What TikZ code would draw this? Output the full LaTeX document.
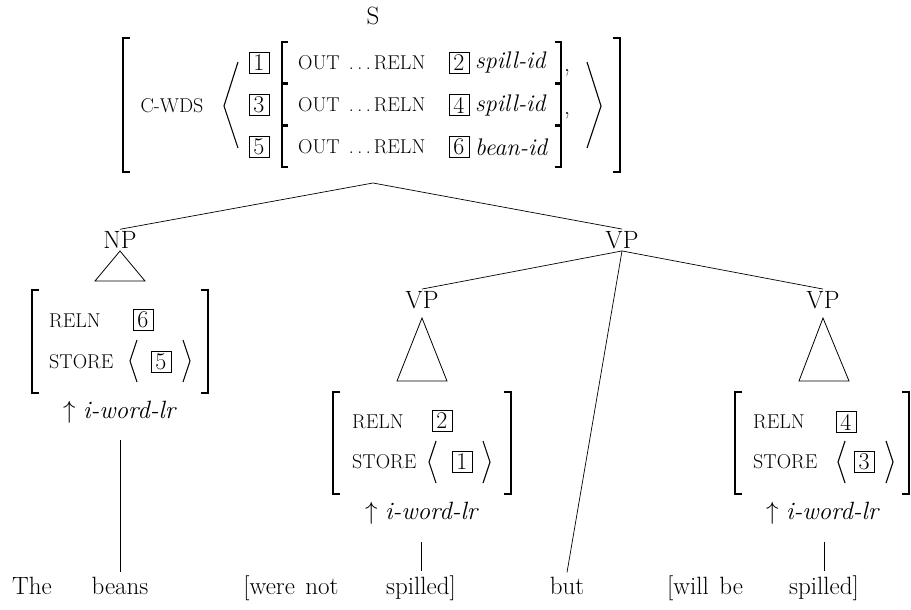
\documentclass[tikz,border=0pt]{standalone}
\usepackage{fontspec}
\usetikzlibrary{calc}
\newcommand\feat[1]{{\fontsize{20}{22}\selectfont #1}}
\tikzset{
  lbl/.style={font=\fontsize{25}{29}\selectfont, inner sep=2pt},
  word/.style={font=\fontsize{25}{29}\selectfont, inner sep=4pt, anchor=base},
  avm/.style={font=\fontsize{24}{28}\selectfont, inner sep=0pt},
  tagbox/.style={draw, line width=0.9pt, font=\fontsize{24}{26}\selectfont, inner sep=0pt, minimum width=20pt, minimum height=21pt},
  brk/.style={line width=1.4pt},
  ang/.style={line width=1.1pt},
  tri/.style={line width=0.8pt},
  edge/.style={line width=0.7pt}
}
\begin{document}
\begin{tikzpicture}[x=1pt,y=-1pt]
\useasboundingbox (0,0) rectangle (911,610);

% ---------- S and big AVM ----------
\node[lbl] (S) at (373,16) {S};
\draw[brk] (130,38) -- (123,38) -- (123,172) -- (130,172);
\draw[brk] (613,38) -- (620,38) -- (620,172) -- (613,172);
\node[avm] (cwds) at (172,106) {\feat{C-WDS}};
\draw[ang] (238,62) -- (224,106) -- (238,148);
\draw[ang] (587,62) -- (601,106) -- (587,148);

\foreach \y/\ta/\tb/\val/\cm [count=\i] in {63/1/2/spill-id/{,}, 105/3/4/spill-id/{,}, 147/5/6/bean-id/{}} {
  \node[tagbox] (ta\i) at (259,\y) {\ta};
  \draw[brk] (288,\y-21) -- (282,\y-21) -- (282,\y+20) -- (288,\y+20);
  \node[avm, anchor=west] (out\i) at (298,\y) {\feat{OUT\hspace{9pt}.\hspace{3.5pt}.\hspace{3.5pt}.\hspace{3pt}RELN}};
  \node[tagbox] (tb\i) at (459,\y) {\tb};
  \node[avm, anchor=west] (val\i) at (475,\y) {\textit{\val}};
  \draw[brk] (555,\y-21) -- (561,\y-21) -- (561,\y+20) -- (555,\y+20);
  \node[avm, anchor=base west] (cm\i) at (564,\y+9) {\cm};
}

% ---------- tree top ----------
\coordinate (apex) at (373,183);
\node[lbl] (NP) at (120,240) {NP};
\node[lbl] (VP) at (622,240) {VP};
\draw[edge] (NP.north) -- (apex) -- (VP.north);

% ---------- NP ----------
\draw[tri] (120,251) -- (95,281) -- (145,281) -- cycle;
\draw[brk] (39,290) -- (32,290) -- (32,393) -- (39,393);
\draw[brk] (201,290) -- (208,290) -- (208,393) -- (201,393);
\node[avm, anchor=west] (npr) at (49,321) {\feat{RELN}};
\node[tagbox] (np6) at (143,320) {6};
\node[avm, anchor=west] (nps) at (49,362) {\feat{STORE}};
\draw[ang] (137,340) -- (130,361) -- (137,382);
\node[tagbox] (np5) at (161,362) {5};
\draw[ang] (183,340) -- (190,361) -- (183,382);
\node[lbl] (npl) at (120,412) {$\uparrow$ \textit{i-word-lr}};

% ---------- VP children ----------
\node[lbl] (VPa) at (422,300) {VP};
\node[lbl] (VPb) at (823,300) {VP};

% VPa
\draw[tri] (422,318) -- (397,381) -- (447,381) -- cycle;
\draw[brk] (340,392) -- (333,392) -- (333,494) -- (340,494);
\draw[brk] (504,392) -- (511,392) -- (511,494) -- (504,494);
\node[avm, anchor=west] (ar) at (352,422) {\feat{RELN}};
\node[tagbox] (a2) at (442,421) {2};
\node[avm, anchor=west] (as) at (352,462) {\feat{STORE}};
\draw[ang] (436,441) -- (429,462) -- (436,483);
\node[tagbox] (a1) at (462,462) {1};
\draw[ang] (483,441) -- (490,462) -- (483,483);
\node[lbl] (al) at (422,513) {$\uparrow$ \textit{i-word-lr}};

% VPb
\draw[tri] (823,318) -- (799,381) -- (849,381) -- cycle;
\draw[brk] (742,392) -- (735,392) -- (735,494) -- (742,494);
\draw[brk] (902,392) -- (909,392) -- (909,494) -- (902,494);
\node[avm, anchor=west] (br) at (753,422) {\feat{RELN}};
\node[tagbox] (b4) at (846,422) {4};
\node[avm, anchor=west] (bs) at (753,462) {\feat{STORE}};
\draw[ang] (845,441) -- (838,462) -- (845,483);
\node[tagbox] (b3) at (864,462) {3};
\draw[ang] (886,441) -- (893,462) -- (886,483);
\node[lbl] (bl) at (823,513) {$\uparrow$ \textit{i-word-lr}};

% ---------- words ----------
\node[word] (w1) at (32,594) {The};
\node[word] (w2) at (120,594) {beans};
\node[word] (w3) at (291,594) {[were\hspace{3pt} not};
\node[word] (w4) at (421,594) {spilled]};
\node[word] (w5) at (567,594) {but};
\node[word] (w6) at (705,594) {[will\hspace{3pt} be};
\node[word] (w7) at (824,594) {spilled]};

\coordinate (c1) at (120,440);
\coordinate (c2) at (421,542);
\coordinate (c3) at (824,542);
\draw[edge] (c1) -- (w2.north);
\draw[edge] (c2) -- (w4.north);
\draw[edge] (c3) -- (w7.north);
\draw[edge] (VP.south) -- (VPa.north);
\draw[edge] (VP.south) -- (VPb.north);
\draw[edge] (VP.south) -- (w5.north);
\end{tikzpicture}
\end{document}
